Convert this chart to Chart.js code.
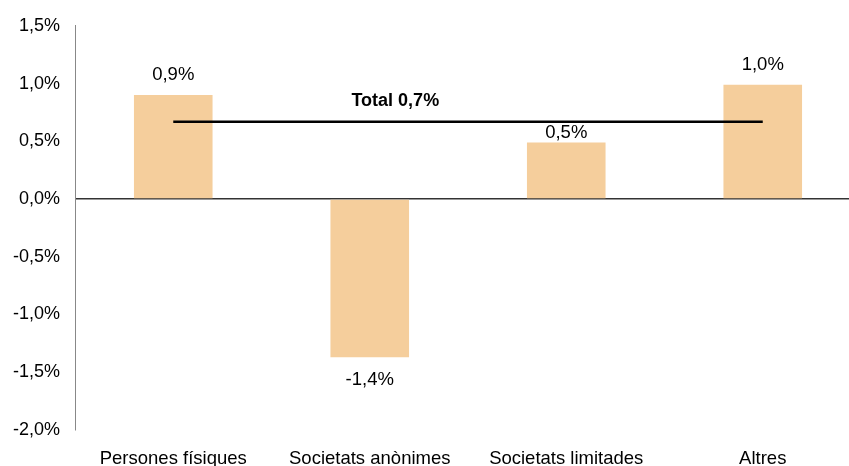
<!DOCTYPE html>
<html>
<head>
<meta charset="utf-8">
<script src="https://cdn.jsdelivr.net/npm/chart.js@4/dist/chart.umd.min.js"></script>
<style>
  html, body { margin: 0; padding: 0; overflow: hidden; background: #fff; }
  #wrap { width: 862px; height: 466px; position: relative; }
</style>
</head>
<body>
<div id="wrap"><canvas id="c"></canvas></div>
<script>
const categories = ['Persones físiques', 'Societats anònimes', 'Societats limitades', 'Altres'];
const values = [0.9, -1.37, 0.49, 0.99];
const valueLabels = ['0,9%', '-1,4%', '0,5%', '1,0%'];
const totalValue = 0.67;
const totalLabel = 'Total 0,7%';
const yMin = -2.0, yMax = 1.5, yStep = 0.5;

const FONT = '"Liberation Sans", Arial, sans-serif';

const labelPlugin = {
  id: 'labels',
  afterDatasetsDraw(chart) {
    const ctx = chart.ctx;
    const meta = chart.getDatasetMeta(1);
    const xs = chart.scales.x, ys = chart.scales.y;
    const lineY = ys.getPixelForValue(totalValue);
    ctx.save();
    ctx.font = '18.5px ' + FONT;
    ctx.fillStyle = '#000';
    ctx.textAlign = 'center';
    ctx.textBaseline = 'middle';
    meta.data.forEach((bar, i) => {
      const v = values[i];
      let y;
      if (v >= 0) {
        y = bar.y - 20;
        if (Math.abs(y - lineY) < 12) y = bar.y - 10; // keep clear of the total line
      } else {
        y = bar.y + 23;
      }
      ctx.fillText(valueLabels[i], bar.x, y);
    });
    const x1 = xs.getPixelForValue(1), x2 = xs.getPixelForValue(2);
    const tx = x1 + 0.13 * (x2 - x1);
    ctx.font = 'bold 18px ' + FONT;
    ctx.fillText(totalLabel, tx, lineY - 21);
    ctx.restore();
  }
};

new Chart(document.getElementById('c'), {
  type: 'bar',
  data: {
    labels: categories,
    datasets: [
      {
        type: 'line',
        data: categories.map(() => totalValue),
        borderColor: '#000',
        borderWidth: 2.5,
        pointRadius: 0,
        fill: false,
        order: 0
      },
      {
        type: 'bar',
        data: values,
        backgroundColor: '#F5CE9C',
        borderWidth: 0,
        categoryPercentage: 1,
        barPercentage: 0.4,
        order: 1
      }
    ]
  },
  options: {
    responsive: true,
    maintainAspectRatio: false,
    animation: false,
    layout: { padding: { top: 23.5, right: 1, left: 0, bottom: 0 } },
    plugins: { legend: { display: false }, tooltip: { enabled: false } },
    scales: {
      x: {
        grid: { display: false, drawTicks: false },
        border: { display: false },
        ticks: { color: '#000', font: { family: FONT, size: 18.5 }, padding: 18, maxRotation: 0 },
        afterFit(s) { s.height = 36; }
      },
      y: {
        min: yMin, max: yMax,
        grid: {
          drawTicks: false,
          color: (c) => (c.tick && c.tick.value === 0) ? '#333' : 'rgba(0,0,0,0)',
          lineWidth: 1.5
        },
        border: { display: true, color: '#888', width: 1 },
        ticks: {
          stepSize: yStep,
          color: '#000',
          padding: 15,
          font: { family: FONT, size: 18 },
          callback: (v) => v.toFixed(1).replace('.', ',') + '%'
        },
        afterFit(s) { s.width = 75; }
      }
    }
  },
  plugins: [labelPlugin]
});
</script>
</body>
</html>
